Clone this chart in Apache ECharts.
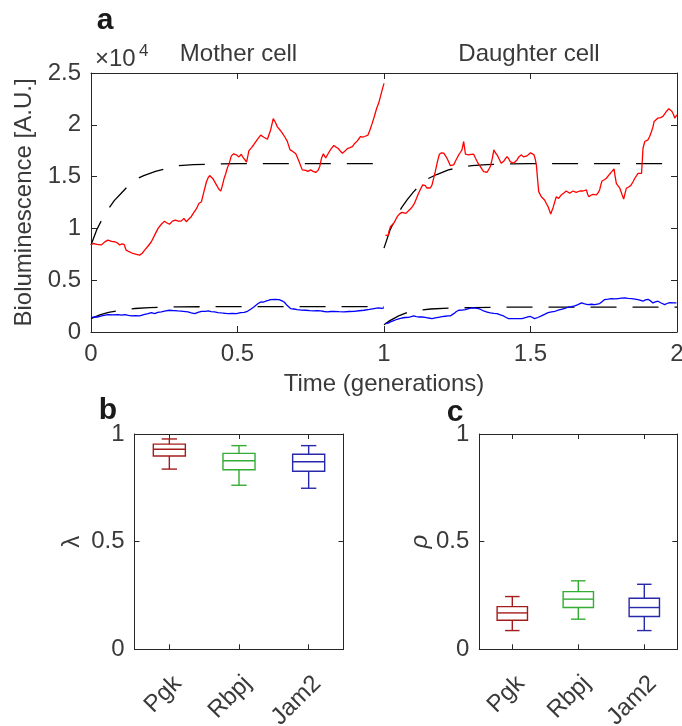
<!DOCTYPE html>
<html>
<head>
<meta charset="utf-8">
<script src="https://cdn.jsdelivr.net/npm/echarts@6/dist/echarts.min.js"></script>
<style>
  html, body { margin: 0; padding: 0; background: #ffffff; }
  #chart { width: 682px; height: 726px; }
</style>
</head>
<body>
<div id="chart"></div>
<script>
// bioluminescence traces, values in units of 1e4 (A.U.), time in generations
const motherRed = [[0,0.84],[0.007,0.855],[0.02,0.845],[0.035,0.84],[0.047,0.87],[0.058,0.887],[0.07,0.875],[0.081,0.871],[0.09,0.86],[0.098,0.84],[0.106,0.85],[0.113,0.845],[0.12,0.79],[0.13,0.775],[0.143,0.758],[0.155,0.75],[0.166,0.742],[0.175,0.76],[0.183,0.79],[0.195,0.83],[0.206,0.871],[0.218,0.94],[0.229,1.0],[0.24,1.04],[0.251,1.07],[0.258,1.055],[0.268,1.04],[0.278,1.07],[0.288,1.08],[0.298,1.07],[0.308,1.07],[0.317,1.097],[0.325,1.065],[0.334,1.09],[0.342,1.113],[0.35,1.15],[0.36,1.19],[0.368,1.24],[0.377,1.258],[0.385,1.35],[0.394,1.45],[0.4,1.49],[0.405,1.51],[0.416,1.48],[0.428,1.42],[0.436,1.38],[0.443,1.36],[0.449,1.42],[0.454,1.48],[0.46,1.53],[0.465,1.58],[0.472,1.63],[0.479,1.70],[0.487,1.72],[0.496,1.71],[0.505,1.69],[0.513,1.716],[0.52,1.68],[0.526,1.66],[0.531,1.64],[0.539,1.75],[0.548,1.78],[0.556,1.81],[0.568,1.86],[0.579,1.90],[0.59,1.88],[0.602,1.86],[0.613,1.95],[0.622,2.06],[0.63,2.02],[0.636,1.98],[0.645,1.95],[0.653,1.92],[0.662,1.88],[0.67,1.84],[0.679,1.76],[0.69,1.74],[0.699,1.72],[0.71,1.645],[0.721,1.565],[0.727,1.55],[0.733,1.56],[0.74,1.55],[0.75,1.565],[0.758,1.55],[0.767,1.54],[0.775,1.56],[0.781,1.60],[0.787,1.68],[0.793,1.72],[0.801,1.68],[0.812,1.735],[0.82,1.77],[0.829,1.80],[0.836,1.785],[0.843,1.774],[0.85,1.75],[0.858,1.726],[0.866,1.745],[0.875,1.77],[0.884,1.78],[0.892,1.79],[0.9,1.82],[0.909,1.845],[0.915,1.86],[0.92,1.887],[0.927,1.88],[0.934,1.887],[0.94,1.89],[0.945,1.90],[0.952,1.95],[0.96,2.016],[0.968,2.09],[0.975,2.16],[0.982,2.21],[0.988,2.274],[0.994,2.34],[1.0,2.40]];
const motherBlue = [[0,0.139],[0.012,0.145],[0.024,0.145],[0.04,0.158],[0.058,0.168],[0.075,0.165],[0.092,0.168],[0.105,0.162],[0.115,0.168],[0.128,0.16],[0.138,0.155],[0.152,0.158],[0.166,0.155],[0.18,0.168],[0.195,0.177],[0.206,0.187],[0.217,0.177],[0.228,0.19],[0.24,0.194],[0.255,0.203],[0.268,0.21],[0.282,0.207],[0.297,0.203],[0.315,0.2],[0.331,0.194],[0.342,0.185],[0.354,0.177],[0.365,0.19],[0.377,0.2],[0.39,0.2],[0.4,0.203],[0.41,0.196],[0.422,0.194],[0.433,0.188],[0.445,0.184],[0.458,0.18],[0.468,0.177],[0.482,0.18],[0.496,0.177],[0.511,0.187],[0.523,0.19],[0.534,0.2],[0.545,0.22],[0.556,0.242],[0.568,0.27],[0.579,0.29],[0.588,0.288],[0.596,0.297],[0.605,0.305],[0.613,0.313],[0.628,0.315],[0.642,0.313],[0.652,0.3],[0.659,0.29],[0.67,0.255],[0.681,0.226],[0.692,0.222],[0.704,0.216],[0.718,0.212],[0.733,0.21],[0.747,0.206],[0.761,0.203],[0.772,0.206],[0.784,0.203],[0.796,0.198],[0.807,0.194],[0.818,0.198],[0.829,0.2],[0.846,0.196],[0.863,0.194],[0.88,0.198],[0.898,0.2],[0.915,0.205],[0.932,0.21],[0.95,0.218],[0.966,0.226],[0.975,0.23],[0.983,0.232],[0.992,0.228],[1.0,0.232]];
const daughterRed = [[1.005,0.935],[1.01,0.94],[1.014,0.93],[1.018,0.98],[1.022,1.016],[1.028,1.02],[1.033,1.048],[1.039,1.08],[1.045,1.113],[1.053,1.14],[1.061,1.155],[1.068,1.15],[1.075,1.145],[1.082,1.165],[1.09,1.187],[1.097,1.21],[1.104,1.242],[1.111,1.29],[1.118,1.339],[1.125,1.38],[1.132,1.42],[1.141,1.413],[1.146,1.39],[1.152,1.371],[1.158,1.39],[1.164,1.42],[1.17,1.49],[1.175,1.548],[1.182,1.64],[1.189,1.716],[1.196,1.73],[1.204,1.726],[1.21,1.70],[1.215,1.677],[1.221,1.64],[1.226,1.606],[1.232,1.605],[1.238,1.613],[1.244,1.65],[1.249,1.677],[1.255,1.71],[1.261,1.735],[1.266,1.758],[1.272,1.839],[1.278,1.716],[1.284,1.72],[1.289,1.71],[1.297,1.715],[1.306,1.716],[1.312,1.68],[1.318,1.645],[1.323,1.62],[1.329,1.597],[1.335,1.57],[1.34,1.548],[1.346,1.55],[1.352,1.542],[1.358,1.56],[1.363,1.597],[1.37,1.68],[1.375,1.758],[1.38,1.73],[1.386,1.71],[1.393,1.67],[1.4,1.629],[1.408,1.645],[1.414,1.67],[1.42,1.694],[1.426,1.67],[1.431,1.645],[1.437,1.635],[1.442,1.629],[1.448,1.64],[1.454,1.661],[1.46,1.69],[1.465,1.70],[1.469,1.71],[1.476,1.69],[1.482,1.677],[1.488,1.70],[1.494,1.716],[1.5,1.73],[1.505,1.742],[1.512,1.71],[1.516,1.67],[1.52,1.613],[1.524,1.48],[1.528,1.355],[1.537,1.306],[1.548,1.274],[1.554,1.24],[1.56,1.21],[1.565,1.17],[1.569,1.139],[1.573,1.17],[1.577,1.20],[1.583,1.194],[1.588,1.306],[1.592,1.29],[1.596,1.29],[1.605,1.323],[1.613,1.34],[1.622,1.361],[1.628,1.35],[1.634,1.339],[1.64,1.35],[1.645,1.361],[1.651,1.355],[1.656,1.348],[1.662,1.36],[1.668,1.361],[1.674,1.355],[1.679,1.361],[1.685,1.365],[1.691,1.371],[1.695,1.33],[1.699,1.306],[1.706,1.32],[1.713,1.329],[1.719,1.32],[1.725,1.323],[1.731,1.345],[1.736,1.371],[1.74,1.42],[1.744,1.458],[1.752,1.47],[1.759,1.484],[1.765,1.5],[1.77,1.523],[1.778,1.55],[1.785,1.574],[1.789,1.5],[1.793,1.435],[1.799,1.41],[1.805,1.387],[1.812,1.33],[1.818,1.284],[1.822,1.33],[1.827,1.387],[1.835,1.40],[1.842,1.413],[1.85,1.45],[1.856,1.484],[1.862,1.51],[1.867,1.532],[1.873,1.53],[1.879,1.532],[1.884,1.774],[1.89,1.839],[1.896,1.845],[1.901,1.855],[1.907,1.89],[1.913,1.935],[1.918,1.98],[1.922,2.032],[1.928,2.05],[1.935,2.065],[1.944,2.07],[1.952,2.081],[1.958,2.1],[1.964,2.129],[1.972,2.155],[1.978,2.14],[1.983,2.129],[1.988,2.1],[1.992,2.065],[1.996,2.08],[2.0,2.097]];
const daughterBlue = [[1.005,0.081],[1.014,0.085],[1.022,0.097],[1.033,0.11],[1.045,0.123],[1.053,0.13],[1.061,0.135],[1.072,0.14],[1.084,0.142],[1.093,0.148],[1.101,0.155],[1.11,0.148],[1.118,0.145],[1.13,0.145],[1.141,0.142],[1.152,0.135],[1.164,0.129],[1.175,0.136],[1.186,0.142],[1.198,0.148],[1.209,0.152],[1.218,0.155],[1.226,0.155],[1.232,0.165],[1.238,0.177],[1.246,0.195],[1.255,0.21],[1.266,0.212],[1.278,0.216],[1.289,0.225],[1.3,0.232],[1.312,0.23],[1.323,0.226],[1.332,0.215],[1.34,0.203],[1.352,0.193],[1.363,0.184],[1.375,0.18],[1.386,0.177],[1.397,0.165],[1.408,0.155],[1.417,0.14],[1.425,0.129],[1.436,0.129],[1.448,0.129],[1.46,0.13],[1.471,0.129],[1.48,0.137],[1.491,0.145],[1.5,0.15],[1.505,0.14],[1.514,0.129],[1.525,0.14],[1.537,0.155],[1.548,0.17],[1.56,0.187],[1.572,0.195],[1.583,0.20],[1.594,0.21],[1.605,0.219],[1.617,0.228],[1.628,0.239],[1.64,0.245],[1.651,0.252],[1.662,0.265],[1.674,0.281],[1.685,0.272],[1.696,0.265],[1.708,0.268],[1.719,0.265],[1.728,0.27],[1.736,0.274],[1.745,0.295],[1.753,0.313],[1.765,0.318],[1.776,0.323],[1.788,0.32],[1.799,0.323],[1.81,0.326],[1.822,0.329],[1.833,0.325],[1.845,0.323],[1.856,0.318],[1.867,0.313],[1.876,0.305],[1.884,0.297],[1.892,0.31],[1.901,0.316],[1.91,0.3],[1.918,0.281],[1.926,0.29],[1.935,0.297],[1.946,0.28],[1.958,0.265],[1.966,0.275],[1.975,0.284],[1.987,0.282],[1.998,0.281]];

// model fits (dashed)
const motherRedFit = [[0,0.84],[0.02,0.99],[0.04,1.1],[0.06,1.19],[0.08,1.27],[0.1,1.33],[0.12,1.39],[0.15,1.47],[0.18,1.51],[0.22,1.55],[0.26,1.58],[0.3,1.605],[0.35,1.615],[0.4,1.62],[0.5,1.625],[1.0,1.625]];
const motherBlueFit = [[0,0.13],[0.03,0.165],[0.06,0.19],[0.1,0.21],[0.15,0.227],[0.2,0.236],[0.3,0.243],[0.5,0.245],[1.0,0.245]];
const daughterRedFit = [[1.0,0.81],[1.02,0.98],[1.04,1.1],[1.06,1.2],[1.08,1.28],[1.1,1.35],[1.12,1.41],[1.15,1.48],[1.18,1.52],[1.22,1.565],[1.26,1.59],[1.3,1.605],[1.35,1.615],[1.4,1.622],[1.5,1.625],[2.0,1.625]];
const daughterBlueFit = [[1.0,0.07],[1.02,0.11],[1.05,0.155],[1.08,0.19],[1.12,0.21],[1.16,0.222],[1.22,0.23],[1.3,0.236],[1.4,0.24],[2.0,0.24]];

// box plots: [min, q1, median, q3, max]
const genes = ['Pgk', 'Rbpj', 'Jam2'];
const lambdaBox = [[0.837,0.898,0.929,0.953,0.977],[0.762,0.834,0.876,0.910,0.946],[0.748,0.827,0.871,0.906,0.946]];
const rhoBox = [[0.087,0.135,0.169,0.198,0.245],[0.140,0.194,0.233,0.268,0.318],[0.087,0.152,0.194,0.237,0.302]];
const geneColors = ['#a51c1c', '#33ad33', '#2828ab'];

const FONT = '"Liberation Sans", Arial, Helvetica, sans-serif';
const TXT = '#3a3a3a';
const AX = '#262626';

function valueAxis(grid, pos, min, max, step, showLabel, tickLen) {
  return {
    gridIndex: grid, type: 'value', position: pos,
    min: min, max: max, interval: step,
    axisLine: { show: true, onZero: false, lineStyle: { color: AX, width: 1 } },
    axisTick: { show: true, inside: true, length: tickLen, lineStyle: { color: AX } },
    axisLabel: { show: showLabel, fontSize: 24, color: TXT, fontFamily: FONT, margin: 10 },
    splitLine: { show: false }
  };
}

function catAxis(grid, pos, showLabel) {
  return {
    gridIndex: grid, type: 'category', position: pos, data: genes, boundaryGap: true,
    axisLine: { show: true, onZero: false, lineStyle: { color: AX, width: 1 } },
    axisTick: { show: true, inside: true, length: 5, alignWithLabel: true, lineStyle: { color: AX } },
    axisLabel: { show: showLabel, rotate: 45, align: 'right', verticalAlign: 'top', margin: 22,
                 fontSize: 24, color: TXT, fontFamily: FONT },
    splitLine: { show: false }
  };
}

function boxRender(params, api) {
  const i = api.value(0);
  const pMin = api.coord([i, api.value(1)]);
  const pQ1 = api.coord([i, api.value(2)]);
  const pMed = api.coord([i, api.value(3)]);
  const pQ3 = api.coord([i, api.value(4)]);
  const pMax = api.coord([i, api.value(5)]);
  const band = api.size([1, 0])[0];
  const half = band * 0.23;
  const cap = band * 0.11;
  const x = pMed[0];
  const st = { stroke: geneColors[i], lineWidth: 1.4, fill: null };
  return {
    type: 'group',
    children: [
      { type: 'rect', shape: { x: x - half, y: pQ3[1], width: 2 * half, height: pQ1[1] - pQ3[1] }, style: st },
      { type: 'line', shape: { x1: x - half, y1: pMed[1], x2: x + half, y2: pMed[1] }, style: st },
      { type: 'line', shape: { x1: x, y1: pQ3[1], x2: x, y2: pMax[1] }, style: st },
      { type: 'line', shape: { x1: x, y1: pQ1[1], x2: x, y2: pMin[1] }, style: st },
      { type: 'line', shape: { x1: x - cap, y1: pMax[1], x2: x + cap, y2: pMax[1] }, style: st },
      { type: 'line', shape: { x1: x - cap, y1: pMin[1], x2: x + cap, y2: pMin[1] }, style: st }
    ]
  };
}

function traceSeries(data, color) {
  return { type: 'line', xAxisIndex: 0, yAxisIndex: 0, data: data, showSymbol: false, symbol: 'none',
           lineStyle: { color: color, width: 1.3 }, z: 3 };
}
function fitSeries(data) {
  return { type: 'line', xAxisIndex: 0, yAxisIndex: 0, data: data, showSymbol: false, symbol: 'none',
           smooth: false, lineStyle: { color: '#000000', width: 1.3, type: [26, 16] }, z: 2 };
}
function boxSeries(axisIdx, rows) {
  return { type: 'custom', xAxisIndex: axisIdx, yAxisIndex: axisIdx, renderItem: boxRender,
           encode: { x: 0, y: [1, 2, 3, 4, 5] },
           data: rows.map(function (r, i) { return [i].concat(r); }) };
}

const chart = echarts.init(document.getElementById('chart'), null, { renderer: 'canvas' });

const xTop = valueAxis(0, 'bottom', 0, 2, 0.5, true, 6);
xTop.name = 'Time (generations)';
xTop.nameLocation = 'middle';
xTop.nameGap = 40;
xTop.nameTextStyle = { fontSize: 24, color: TXT, fontFamily: FONT };
const yTop = valueAxis(0, 'left', 0, 2.5, 0.5, true, 6);
yTop.name = 'Bioluminescence [A.U.]';
yTop.nameLocation = 'middle';
yTop.nameGap = 48;
yTop.nameTextStyle = { fontSize: 24, color: TXT, fontFamily: FONT };

const yB = valueAxis(1, 'left', 0, 1, 0.5, true, 5);
yB.name = 'λ';
yB.nameLocation = 'middle';
yB.nameGap = 50;
yB.nameTextStyle = { fontSize: 24, color: TXT, fontFamily: FONT };
const yC = valueAxis(2, 'left', 0, 1, 0.5, true, 5);
yC.name = 'ρ';
yC.nameLocation = 'middle';
yC.nameGap = 46;
yC.nameTextStyle = { fontSize: 24, color: TXT, fontFamily: FONT, fontStyle: 'italic' };

const option = {
  animation: false,
  backgroundColor: '#ffffff',
  // fixed panel boxes, labels are allowed to run to the page edge
  grid: [
    { left: 91, top: 73, width: 586, height: 259, outerBoundsMode: 'none' },
    { left: 134.5, top: 434, width: 209, height: 215.3, outerBoundsMode: 'none' },
    { left: 479.3, top: 434, width: 198, height: 215.3, outerBoundsMode: 'none' }
  ],
  xAxis: [
    xTop,
    valueAxis(0, 'top', 0, 2, 0.5, false, 6),
    catAxis(1, 'bottom', true),
    catAxis(1, 'top', false),
    catAxis(2, 'bottom', true),
    catAxis(2, 'top', false)
  ],
  yAxis: [
    yTop,
    valueAxis(0, 'right', 0, 2.5, 0.5, false, 6),
    yB,
    valueAxis(1, 'right', 0, 1, 0.5, false, 5),
    yC,
    valueAxis(2, 'right', 0, 1, 0.5, false, 5)
  ],
  series: [
    fitSeries(motherRedFit),
    fitSeries(motherBlueFit),
    fitSeries(daughterRedFit),
    fitSeries(daughterBlueFit),
    traceSeries(motherRed, '#ff0000'),
    traceSeries(daughterRed, '#ff0000'),
    traceSeries(motherBlue, '#0000ff'),
    traceSeries(daughterBlue, '#0000ff'),
    boxSeries(2, lambdaBox),
    boxSeries(4, rhoBox)
  ],
  graphic: [
    { type: 'text', x: 105, y: 21, style: { text: 'a', font: 'bold 30px ' + FONT, fill: '#1a1a1a', align: 'center', verticalAlign: 'middle' } },
    { type: 'text', x: 108, y: 411, style: { text: 'b', font: 'bold 30px ' + FONT, fill: '#1a1a1a', align: 'center', verticalAlign: 'middle' } },
    { type: 'text', x: 455, y: 413, style: { text: 'c', font: 'bold 30px ' + FONT, fill: '#1a1a1a', align: 'center', verticalAlign: 'middle' } },
    { type: 'text', x: 238.5, y: 54, style: { text: 'Mother cell', font: '24px ' + FONT, fill: TXT, align: 'center', verticalAlign: 'middle' } },
    { type: 'text', x: 529, y: 54, style: { text: 'Daughter cell', font: '24px ' + FONT, fill: TXT, align: 'center', verticalAlign: 'middle' } },
    { type: 'text', x: 95, y: 59, style: { text: '×10', font: '24px ' + FONT, fill: TXT, align: 'left', verticalAlign: 'middle' } },
    { type: 'text', x: 139, y: 51, style: { text: '4', font: '17px ' + FONT, fill: TXT, align: 'left', verticalAlign: 'middle' } }
  ]
};

chart.setOption(option);
</script>
</body>
</html>
